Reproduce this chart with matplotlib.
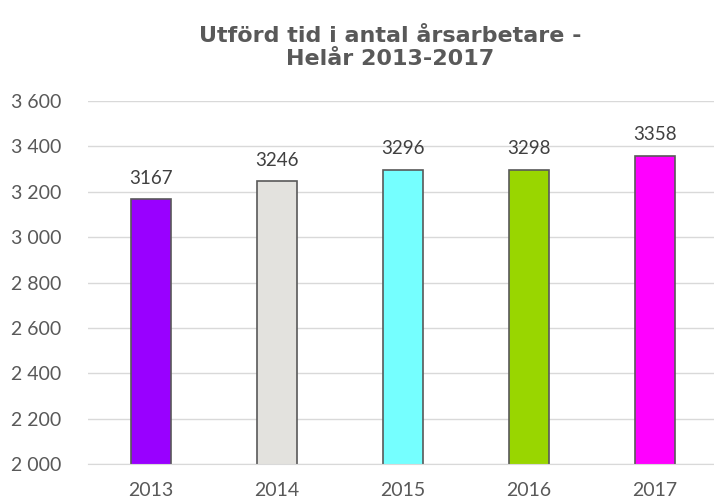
import matplotlib.pyplot as plt

# data
years = ['2013', '2014', '2015', '2016', '2017']
values = [3167, 3246, 3296, 3298, 3358]
colors = ['#9900FF', '#E3E2DE', '#75FFFF', '#99D600', '#FF00FF']
yticks = [2000, 2200, 2400, 2600, 2800, 3000, 3200, 3400, 3600]
title_lines = ['Utförd tid i antal årsarbetare -', 'Helår 2013-2017']

plt.rcParams['font.family'] = ['Lato', 'DejaVu Sans']

fig = plt.figure(figsize=(7.14, 5.01), dpi=100)
ax = fig.add_axes([88 / 714, 1 - 464 / 501, 630 / 714, 363 / 501])

x = range(len(years))
bars = ax.bar(x, values, width=0.315, color=colors, edgecolor='#595959',
              linewidth=1.2, zorder=3)

for xi, v in zip(x, values):
    ax.annotate(str(v), (xi, v), xytext=(0, 9), textcoords='offset points',
                ha='center', va='bottom', fontsize=13.5, color='#404040')

ax.set_ylim(2000, 3600)
ax.set_xlim(-0.5, 4.5)
ax.set_yticks(yticks)
ax.set_yticklabels([f'{t // 1000} {t % 1000:03d}' for t in yticks])
ax.set_xticks(list(x))
ax.set_xticklabels(years)
ax.grid(axis='y', color='#D9D9D9', linewidth=1, zorder=0)
ax.tick_params(axis='both', length=0, labelsize=14, colors='#595959')
ax.tick_params(axis='x', pad=13)
ax.tick_params(axis='y', pad=19)
for side in ['top', 'right', 'left']:
    ax.spines[side].set_visible(False)
ax.spines['bottom'].set_color('#D9D9D9')
ax.spines['bottom'].set_zorder(4)

for ypix, line in zip([36, 59], title_lines):
    fig.text(390 / 714, 1 - ypix / 501, line, ha='center', va='center',
             fontsize=16, fontweight='bold', color='#595959', family='DejaVu Sans')

plt.savefig('out.png', dpi=100)
